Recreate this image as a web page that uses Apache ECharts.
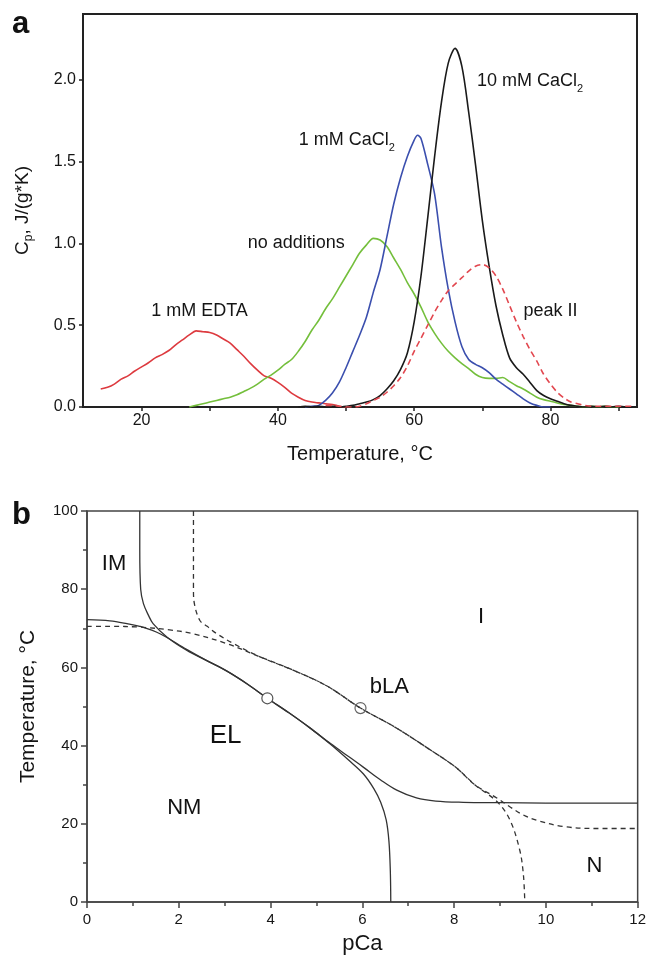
<!DOCTYPE html>
<html>
<head>
<meta charset="utf-8">
<script src="https://cdn.jsdelivr.net/npm/echarts@6/dist/echarts.min.js"></script>
<style>
html,body{margin:0;padding:0;background:#fff;}
#chart{width:649px;height:958px;}
</style>
</head>
<body>
<div id="chart"></div>
<script>
// ---------- Panel a: DSC curves ----------
const edtaT  = [14,15,16,17,18,19,20,21,22,23,24,25,26,27,28,29,30,31,32,33,34,35,36,37,38,39,40,41,42,43,44,45,46,47,48,49,50];
const edtaCp = [0.11,0.12,0.14,0.17,0.19,0.22,0.245,0.27,0.30,0.32,0.345,0.38,0.41,0.44,0.465,0.46,0.455,0.44,0.415,0.39,0.35,0.31,0.265,0.225,0.19,0.175,0.15,0.12,0.085,0.06,0.04,0.03,0.025,0.02,0.015,0.005,0.0];

const noAddT  = [27,28,29,30,31,32,33,34,35,36,37,38,39,40,41,42,43,44,45,46,47,48,49,50,51,52,53,54,55,56,57,58,59,60,61,62,63,64,65,66,67,68,69,70,71,72,73,74,75,76,77,78,79,80,81,82,83,84,85,86,87,88,89,90];
const noAddCp = [0.0,0.01,0.02,0.03,0.04,0.05,0.06,0.075,0.095,0.115,0.14,0.17,0.195,0.225,0.26,0.29,0.34,0.40,0.47,0.53,0.60,0.66,0.73,0.80,0.87,0.94,0.99,1.03,1.02,0.98,0.91,0.84,0.76,0.69,0.61,0.52,0.45,0.39,0.34,0.30,0.265,0.235,0.20,0.18,0.175,0.175,0.18,0.155,0.13,0.11,0.085,0.06,0.045,0.035,0.025,0.015,0.01,0.005,0.0,0.005,0.0,0.005,0.0,0.0];

const ca1T  = [44,45,46,47,48,49,50,51,52,53,54,55,56,57,58,59,60,60.5,61,62,63,64,65,66,67,68,69,70,71,72,73,74,75,76,77,78,79,80];
const ca1Cp = [0.0,0.005,0.01,0.04,0.085,0.15,0.24,0.34,0.44,0.55,0.70,0.84,1.04,1.24,1.40,1.53,1.63,1.66,1.64,1.48,1.30,0.98,0.72,0.52,0.37,0.29,0.26,0.24,0.21,0.17,0.14,0.11,0.08,0.05,0.025,0.01,0.0,0.0];

const ca10T  = [43,44,45,46,47,48,49,50,51,52,53,54,55,56,57,58,59,60,61,62,63,64,65,66,67,68,69,70,71,72,73,74,75,76,77,78,79,80,81,82,83,84,85,86,87,88,89,90,91,92];
const ca10Cp = [0.0,0.005,0.0,0.005,0.0,0.005,0.0,0.005,0.01,0.02,0.03,0.045,0.07,0.11,0.16,0.23,0.33,0.52,0.80,1.16,1.53,1.86,2.10,2.19,2.08,1.80,1.48,1.14,0.86,0.62,0.44,0.30,0.24,0.20,0.15,0.10,0.07,0.05,0.035,0.02,0.01,0.005,0.0,0.005,0.0,0.005,0.0,0.005,0.0,0.0];

const peak2T  = [47,48,49,50,51,52,53,54,55,56,57,58,59,60,61,62,63,64,65,66,67,68,69,70,71,72,73,74,75,76,77,78,79,80,81,82,83,84,85,86,87,88,89,90,91,92];
const peak2Cp = [0.01,0.01,0.005,0.0,0.0,0.005,0.02,0.04,0.06,0.09,0.13,0.18,0.25,0.34,0.42,0.50,0.58,0.65,0.71,0.75,0.79,0.83,0.86,0.87,0.85,0.80,0.72,0.62,0.52,0.43,0.35,0.28,0.20,0.14,0.09,0.055,0.03,0.02,0.01,0.005,0.005,0.005,0.005,0.005,0.005,0.005];

const xTicksA = [20, 40, 60, 80];
const xMinorA = [20, 30, 40, 50, 60, 70, 80, 90];
const yTicksA = [0, 0.5, 1.0, 1.5, 2.0];

const labelTextA = ['{t|1 mM EDTA}', '{t|no additions}', '{t|1 mM CaCl}{s|2}', '{t|10 mM CaCl}{s|2}', '{t|peak II}'];
const labelXA = [28.5, 42.7, 50.1, 77.0, 80.0];
const labelYA = [0.585, 1.0, 1.63, 1.99, 0.585];

// ---------- Panel b: phase diagram ----------
const s1X = [1.15,1.15,1.17,1.23,1.34,1.44,1.74,2.17,2.6,3.04,3.5,3.93,4.4,4.85,5.3,5.7,6.02,6.25,6.4,6.52,6.58,6.61,6.62];
const s1Y = [100,90,80,76.3,73.3,71.2,67.8,64.4,61.8,59.1,55.7,52.1,48.4,44.6,40.4,36.3,32.8,29,25.5,21,15.5,8,0];

const s2X = [0,0.5,0.87,1.15,1.59,2.17,2.6,3.04,3.5,3.93,4.4,4.85,5.3,5.7,6.02,6.4,6.75,7.18,7.6,8.2,9,10,12];
const s2Y = [72.2,71.9,71.2,70.5,68.6,64.6,61.8,59.1,55.7,52.1,48.4,44.6,40.6,37.2,34.5,31.2,28.6,26.6,25.8,25.5,25.4,25.3,25.3];

const d1X = [2.32,2.32,2.32,2.34,2.46,2.62,2.83,3.19,3.77,4.49,5.22,5.96,6.7,7.43,8.03,8.45,8.95,9.22,9.43,9.51,9.54];
const d1Y = [100,90,80,76.3,72,70.5,68.6,66.1,62.7,59.3,55.3,49.6,44.8,39.3,34.5,30,25.5,20.9,13.3,7,0];

const d2X = [0,0.5,1.15,1.8,2.32,3.04,3.77,4.49,5.22,5.96,6.7,7.43,8.03,8.45,8.93,9.22,9.5,9.8,10.38,11.1,12];
const d2Y = [70.5,70.5,70.3,69.6,68.6,66.1,62.7,59.3,55.3,49.6,44.8,39.3,34.5,30,26.6,24.3,22.3,20.9,19.3,18.8,18.8];

const pointsX = [3.93, 5.96];
const pointsY = [52.1, 49.6];

const labelTextB = ['IM', 'EL', 'NM', 'bLA', 'I', 'N'];
const labelXB = [0.59, 3.02, 2.12, 6.59, 8.59, 11.06];
const labelYB = [86.5, 42.6, 24.1, 55.0, 72.9, 9.1];

// ---------- build ----------
const zip = (xs, ys) => xs.map((x, i) => [x, ys[i]]);
const FONT = '"Liberation Sans", Arial, sans-serif';
const INK = '#151515';

function lineA(name, xs, ys, color, dashed) {
  return {
    name, type: 'line', xAxisIndex: 0, yAxisIndex: 0,
    data: zip(xs, ys), showSymbol: false, symbol: 'none', smooth: 0.3,
    lineStyle: { color, width: 1.6, type: dashed ? [6, 4] : 'solid' },
    z: 3, animation: false
  };
}
function lineB(name, xs, ys, dashed) {
  return {
    name, type: 'line', xAxisIndex: 1, yAxisIndex: 1,
    data: zip(xs, ys), showSymbol: false, symbol: 'none', smooth: 0.35,
    lineStyle: { color: '#333', width: 1.3, type: dashed ? [5, 4] : 'solid' },
    z: 3, animation: false
  };
}
const noBorder = { textBorderWidth: 0, textBorderColor: 'transparent', textShadowBlur: 0 };

const chart = echarts.init(document.getElementById('chart'), null, { renderer: 'canvas' });

const option = {
  backgroundColor: '#fff',
  animation: false,
  textStyle: { fontFamily: FONT },
  grid: [
    { left: 83, top: 14, width: 554, height: 393, show: true, borderColor: '#222', borderWidth: 2, backgroundColor: 'transparent' },
    { left: 87, top: 511, width: 551, height: 391, show: true, borderColor: '#444', borderWidth: 1.5, backgroundColor: 'transparent' }
  ],
  xAxis: [
    {
      gridIndex: 0, type: 'value', min: 11.4, max: 92.7,
      axisLine: { onZero: false, lineStyle: { color: '#222', width: 2 } },
      axisTick: { customValues: xMinorA, length: 4, lineStyle: { color: '#222', width: 1.5 } },
      axisLabel: { customValues: xTicksA, fontSize: 16, color: INK, margin: 6, fontFamily: FONT },
      splitLine: { show: false },
      name: 'Temperature, °C', nameLocation: 'middle', nameGap: 37,
      nameTextStyle: { fontSize: 20, color: INK, fontFamily: FONT }
    },
    {
      gridIndex: 1, type: 'value', min: 0, max: 12, interval: 2,
      axisLine: { onZero: false, lineStyle: { color: '#444', width: 1.5 } },
      axisTick: { length: 6, lineStyle: { color: '#444', width: 1.5 } },
      minorTick: { show: true, splitNumber: 2, length: 4, lineStyle: { color: '#444', width: 1.5 } },
      axisLabel: { fontSize: 15, color: INK, margin: 10, fontFamily: FONT },
      splitLine: { show: false },
      name: 'pCa', nameLocation: 'middle', nameGap: 31,
      nameTextStyle: { fontSize: 22, color: INK, fontFamily: FONT }
    }
  ],
  yAxis: [
    {
      gridIndex: 0, type: 'value', min: 0, max: 2.4,
      axisLine: { onZero: false, lineStyle: { color: '#222', width: 2 } },
      axisTick: { customValues: yTicksA, length: 4, lineStyle: { color: '#222', width: 1.5 } },
      axisLabel: { customValues: yTicksA, fontSize: 16, color: INK, margin: 7, fontFamily: FONT,
                   formatter: v => Number(v).toFixed(1) },
      splitLine: { show: false },
      name: '{c|C}{p|p}{c|, J/(g*K)}', nameLocation: 'middle', nameGap: 48,
      nameTextStyle: { fontSize: 19, color: INK, fontFamily: FONT,
        rich: { c: { fontSize: 19, color: INK, fontFamily: FONT },
                p: { fontSize: 12, color: INK, fontFamily: FONT, verticalAlign: 'bottom', lineHeight: 24 } } }
    },
    {
      gridIndex: 1, type: 'value', min: 0, max: 100, interval: 20,
      axisLine: { onZero: false, lineStyle: { color: '#444', width: 1.5 } },
      axisTick: { length: 6, lineStyle: { color: '#444', width: 1.5 } },
      minorTick: { show: true, splitNumber: 2, length: 4, lineStyle: { color: '#444', width: 1.5 } },
      axisLabel: { fontSize: 15, color: INK, margin: 9, fontFamily: FONT },
      splitLine: { show: false },
      name: 'Temperature, °C', nameLocation: 'middle', nameGap: 48,
      nameTextStyle: { fontSize: 21, color: INK, fontFamily: FONT }
    }
  ],
  graphic: [
    { type: 'text', left: 12, top: 9, style: { text: 'a', fontSize: 31, fontWeight: 'bold', fill: '#111', fontFamily: FONT } },
    { type: 'text', left: 12, top: 500, style: { text: 'b', fontSize: 31, fontWeight: 'bold', fill: '#111', fontFamily: FONT } }
  ],
  series: [
    lineA('1 mM EDTA', edtaT, edtaCp, '#dd3a3f', false),
    lineA('no additions', noAddT, noAddCp, '#74bf3c', false),
    lineA('1 mM CaCl2', ca1T, ca1Cp, '#3b4fae', false),
    lineA('10 mM CaCl2', ca10T, ca10Cp, '#1a1a1a', false),
    lineA('peak II', peak2T, peak2Cp, '#e2474f', true),
    {
      name: 'labelsA', type: 'scatter', xAxisIndex: 0, yAxisIndex: 0, symbolSize: 0, silent: true,
      itemStyle: { color: 'transparent', opacity: 1 },
      data: labelXA.map((x, i) => ({ value: [x, labelYA[i]], label: { formatter: labelTextA[i] } })),
      label: Object.assign({ show: true, position: 'inside', color: INK, fontFamily: FONT,
        rich: { t: Object.assign({ fontSize: 18, color: INK, fontFamily: FONT }, noBorder),
                s: Object.assign({ fontSize: 11, color: INK, fontFamily: FONT, verticalAlign: 'bottom', lineHeight: 26 }, noBorder) } }, noBorder),
      z: 5, animation: false
    },
    lineB('S1', s1X, s1Y, false),
    lineB('S2', s2X, s2Y, false),
    lineB('D1', d1X, d1Y, true),
    lineB('D2', d2X, d2Y, true),
    {
      name: 'points', type: 'scatter', xAxisIndex: 1, yAxisIndex: 1, symbol: 'circle', symbolSize: 11,
      itemStyle: { opacity: 1 },
      data: [
        { value: [pointsX[0], pointsY[0]], itemStyle: { color: '#fff', borderColor: '#555', borderWidth: 1.2, opacity: 1 } },
        { value: [pointsX[1], pointsY[1]], itemStyle: { color: 'rgba(255,255,255,0)', borderColor: '#666', borderWidth: 1.2, opacity: 1 } }
      ],
      z: 6, animation: false
    },
    {
      name: 'labelsB', type: 'scatter', xAxisIndex: 1, yAxisIndex: 1, symbolSize: 0, silent: true,
      itemStyle: { color: 'transparent', opacity: 1 },
      data: labelXB.map((x, i) => ({ value: [x, labelYB[i]], label: { formatter: labelTextB[i], fontSize: labelTextB[i] === 'EL' ? 26 : 22 } })),
      label: Object.assign({ show: true, position: 'inside', color: '#111', fontFamily: FONT, fontSize: 22 }, noBorder),
      z: 5, animation: false
    }
  ]
};
chart.setOption(option);
</script>
</body>
</html>
